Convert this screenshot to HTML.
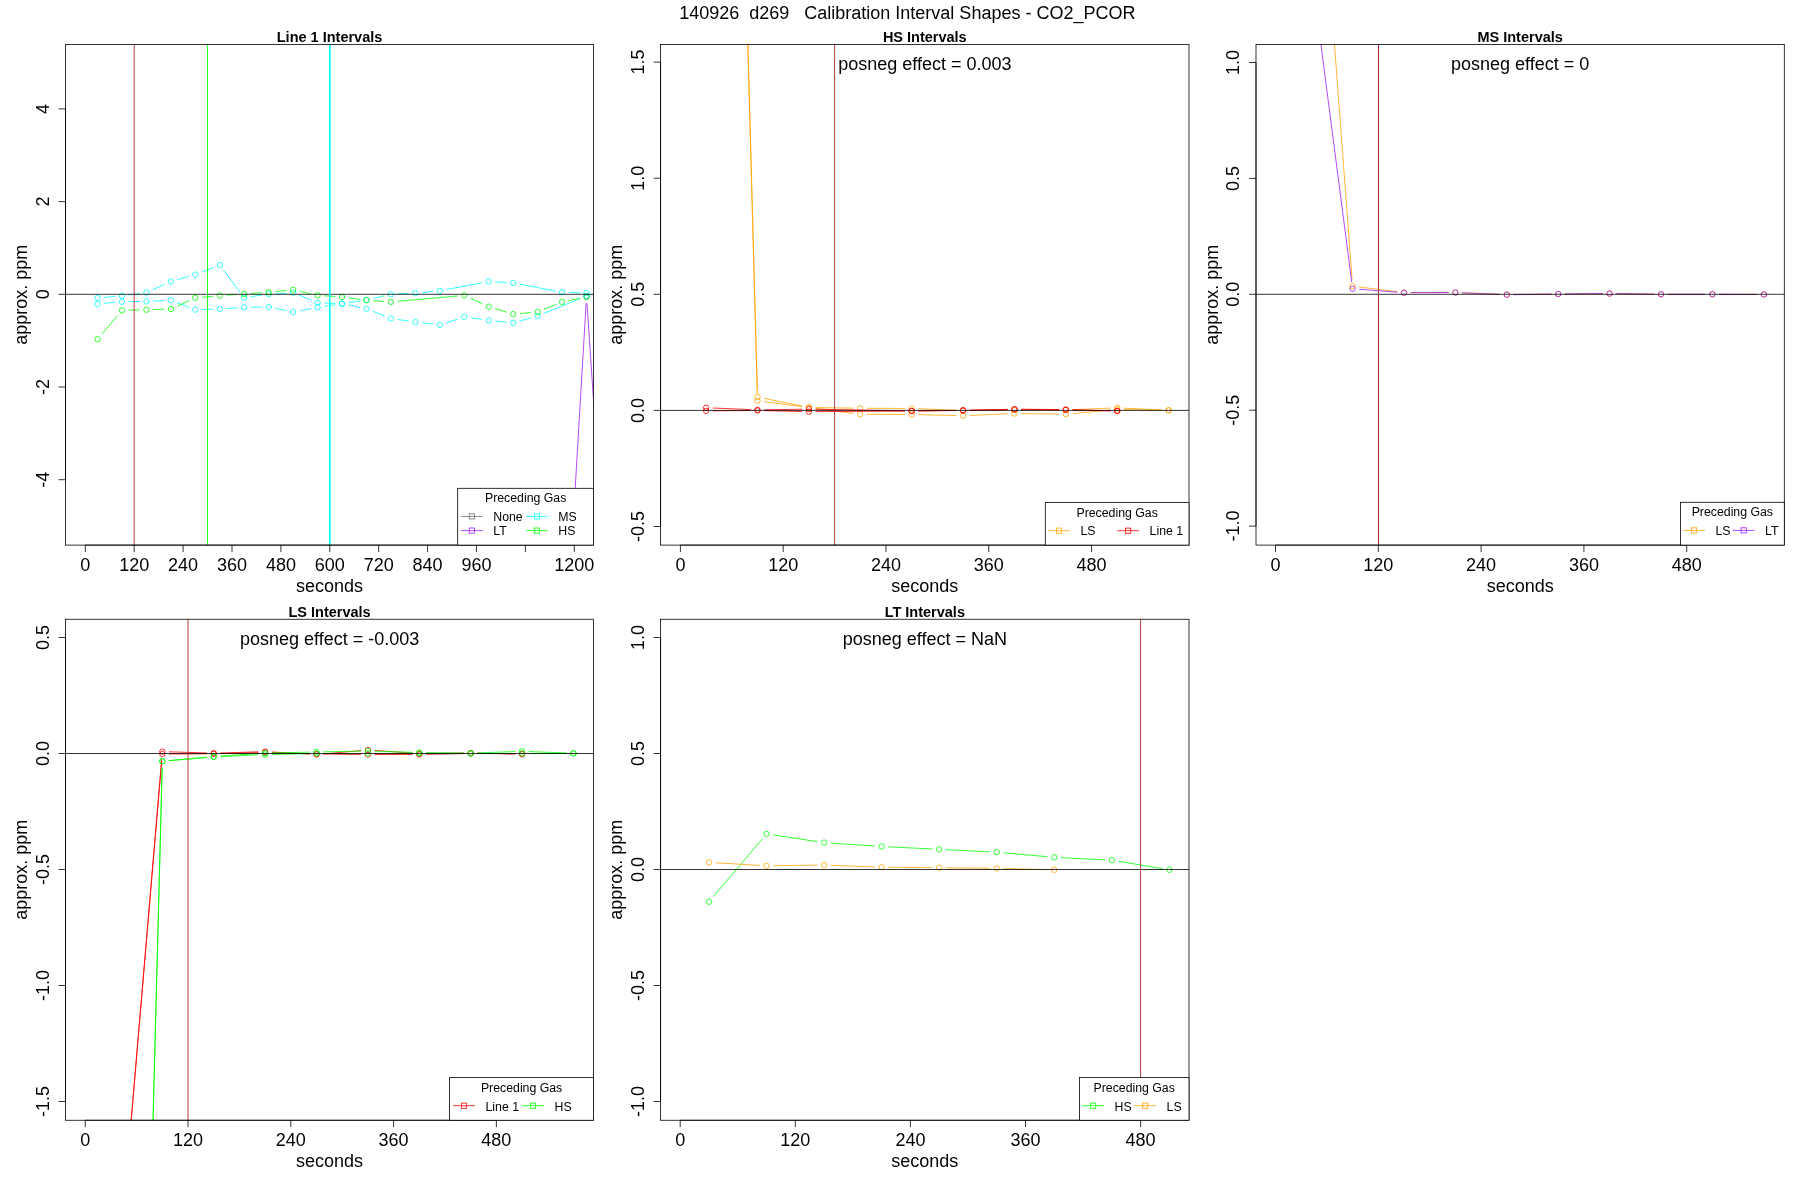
<!DOCTYPE html>
<html><head><meta charset="utf-8"><title>Calibration Interval Shapes</title>
<style>
html,body{margin:0;padding:0;background:#fff;width:1800px;height:1200px;overflow:hidden}
svg{display:block}
text{font-family:"Liberation Sans", sans-serif;fill:#000;-webkit-font-smoothing:antialiased}
.t18{font-size:18px}
.tb{font-size:14.5px;font-weight:bold}
.tl{font-size:12.3px}
</style></head><body>
<svg width="1800" height="1200" viewBox="0 0 1800 1200">
<rect x="0" y="0" width="1800" height="1200" fill="#fff"/>
<g style="opacity:0.999">
<text x="679.2" y="18.7" class="t18" xml:space="preserve">140926  d269   Calibration Interval Shapes - CO2_PCOR</text>
<clipPath id="c1"><rect x="65.5" y="44.4" width="528.1" height="500.7"/></clipPath>
<path clip-path="url(#c1)" d="M562.47 703.31L586.13 303.19M586.97 303.18L610.53 653.32" fill="none" stroke="#A020F0" stroke-width="0.8"/>
<circle clip-path="url(#c1)" cx="586.52" cy="296.5" r="2.7" fill="none" stroke="#A020F0" stroke-width="0.8"/>
<path clip-path="url(#c1)" d="M104.2 297.33L115.3 296.37M128.62 294.93L139.78 293.47M152.52 289.81L164.78 284.19M177.33 279.6L188.87 276.4M201.56 272.15L213.54 267.45M223.79 270.37L240.21 292.33M250.85 296.7L262.05 295M275.37 293.64L286.43 293.06M299.33 295.24L311.37 300.16M324.27 302.97L335.33 303.43M348.65 302.67L359.85 300.93M373.01 298.4L384.39 295.8M397.62 294L408.68 293.5M422.04 292.55L433.16 291.45M446.4 289.54L482.15 282.66M495.41 281.84L506.49 282.56M519.76 284.24L555.49 290.96M568.77 292.39L579.83 292.71" fill="none" stroke="#00FFFF" stroke-width="0.8"/>
<circle clip-path="url(#c1)" cx="97.52" cy="297.9" r="2.7" fill="none" stroke="#00FFFF" stroke-width="0.8"/>
<circle clip-path="url(#c1)" cx="121.97" cy="295.8" r="2.7" fill="none" stroke="#00FFFF" stroke-width="0.8"/>
<circle clip-path="url(#c1)" cx="146.42" cy="292.6" r="2.7" fill="none" stroke="#00FFFF" stroke-width="0.8"/>
<circle clip-path="url(#c1)" cx="170.88" cy="281.4" r="2.7" fill="none" stroke="#00FFFF" stroke-width="0.8"/>
<circle clip-path="url(#c1)" cx="195.32" cy="274.6" r="2.7" fill="none" stroke="#00FFFF" stroke-width="0.8"/>
<circle clip-path="url(#c1)" cx="219.77" cy="265" r="2.7" fill="none" stroke="#00FFFF" stroke-width="0.8"/>
<circle clip-path="url(#c1)" cx="244.22" cy="297.7" r="2.7" fill="none" stroke="#00FFFF" stroke-width="0.8"/>
<circle clip-path="url(#c1)" cx="268.68" cy="294" r="2.7" fill="none" stroke="#00FFFF" stroke-width="0.8"/>
<circle clip-path="url(#c1)" cx="293.12" cy="292.7" r="2.7" fill="none" stroke="#00FFFF" stroke-width="0.8"/>
<circle clip-path="url(#c1)" cx="317.57" cy="302.7" r="2.7" fill="none" stroke="#00FFFF" stroke-width="0.8"/>
<circle clip-path="url(#c1)" cx="342.02" cy="303.7" r="2.7" fill="none" stroke="#00FFFF" stroke-width="0.8"/>
<circle clip-path="url(#c1)" cx="366.47" cy="299.9" r="2.7" fill="none" stroke="#00FFFF" stroke-width="0.8"/>
<circle clip-path="url(#c1)" cx="390.93" cy="294.3" r="2.7" fill="none" stroke="#00FFFF" stroke-width="0.8"/>
<circle clip-path="url(#c1)" cx="415.38" cy="293.2" r="2.7" fill="none" stroke="#00FFFF" stroke-width="0.8"/>
<circle clip-path="url(#c1)" cx="439.82" cy="290.8" r="2.7" fill="none" stroke="#00FFFF" stroke-width="0.8"/>
<circle clip-path="url(#c1)" cx="488.72" cy="281.4" r="2.7" fill="none" stroke="#00FFFF" stroke-width="0.8"/>
<circle clip-path="url(#c1)" cx="513.17" cy="283" r="2.7" fill="none" stroke="#00FFFF" stroke-width="0.8"/>
<circle clip-path="url(#c1)" cx="562.07" cy="292.2" r="2.7" fill="none" stroke="#00FFFF" stroke-width="0.8"/>
<circle clip-path="url(#c1)" cx="586.52" cy="292.9" r="2.7" fill="none" stroke="#00FFFF" stroke-width="0.8"/>
<path clip-path="url(#c1)" d="M104.2 303.33L115.3 302.37M128.67 301.69L139.73 301.51M153.12 301.1L164.18 300.6M177.13 302.7L189.07 307.3M202.02 309.51L213.08 309.19M226.46 308.54L237.54 307.76M250.92 307.22L261.98 307.08M275.24 308.34L286.56 310.66M299.7 310.74L311 308.56M324.2 306.32L335.4 304.68M348.58 305.07L359.92 307.43M372.7 311.27L384.7 316.03M397.56 319.45L408.74 321.05M422.03 322.79L433.17 324.11M446.19 322.82L457.91 318.98M470.91 317.85L482.09 319.45M495.39 321.05L506.51 322.15M519.64 321.03L531.16 317.87M543.82 313.54L580.33 298.46" fill="none" stroke="#00FFFF" stroke-width="0.8"/>
<circle clip-path="url(#c1)" cx="97.52" cy="303.9" r="2.7" fill="none" stroke="#00FFFF" stroke-width="0.8"/>
<circle clip-path="url(#c1)" cx="121.97" cy="301.8" r="2.7" fill="none" stroke="#00FFFF" stroke-width="0.8"/>
<circle clip-path="url(#c1)" cx="146.42" cy="301.4" r="2.7" fill="none" stroke="#00FFFF" stroke-width="0.8"/>
<circle clip-path="url(#c1)" cx="170.88" cy="300.3" r="2.7" fill="none" stroke="#00FFFF" stroke-width="0.8"/>
<circle clip-path="url(#c1)" cx="195.32" cy="309.7" r="2.7" fill="none" stroke="#00FFFF" stroke-width="0.8"/>
<circle clip-path="url(#c1)" cx="219.77" cy="309" r="2.7" fill="none" stroke="#00FFFF" stroke-width="0.8"/>
<circle clip-path="url(#c1)" cx="244.22" cy="307.3" r="2.7" fill="none" stroke="#00FFFF" stroke-width="0.8"/>
<circle clip-path="url(#c1)" cx="268.68" cy="307" r="2.7" fill="none" stroke="#00FFFF" stroke-width="0.8"/>
<circle clip-path="url(#c1)" cx="293.12" cy="312" r="2.7" fill="none" stroke="#00FFFF" stroke-width="0.8"/>
<circle clip-path="url(#c1)" cx="317.57" cy="307.3" r="2.7" fill="none" stroke="#00FFFF" stroke-width="0.8"/>
<circle clip-path="url(#c1)" cx="342.02" cy="303.7" r="2.7" fill="none" stroke="#00FFFF" stroke-width="0.8"/>
<circle clip-path="url(#c1)" cx="366.47" cy="308.8" r="2.7" fill="none" stroke="#00FFFF" stroke-width="0.8"/>
<circle clip-path="url(#c1)" cx="390.93" cy="318.5" r="2.7" fill="none" stroke="#00FFFF" stroke-width="0.8"/>
<circle clip-path="url(#c1)" cx="415.38" cy="322" r="2.7" fill="none" stroke="#00FFFF" stroke-width="0.8"/>
<circle clip-path="url(#c1)" cx="439.82" cy="324.9" r="2.7" fill="none" stroke="#00FFFF" stroke-width="0.8"/>
<circle clip-path="url(#c1)" cx="464.27" cy="316.9" r="2.7" fill="none" stroke="#00FFFF" stroke-width="0.8"/>
<circle clip-path="url(#c1)" cx="488.72" cy="320.4" r="2.7" fill="none" stroke="#00FFFF" stroke-width="0.8"/>
<circle clip-path="url(#c1)" cx="513.17" cy="322.8" r="2.7" fill="none" stroke="#00FFFF" stroke-width="0.8"/>
<circle clip-path="url(#c1)" cx="537.62" cy="316.1" r="2.7" fill="none" stroke="#00FFFF" stroke-width="0.8"/>
<circle clip-path="url(#c1)" cx="586.52" cy="295.9" r="2.7" fill="none" stroke="#00FFFF" stroke-width="0.8"/>
<path clip-path="url(#c1)" d="M101.86 334.09L117.64 315.51M128.67 310.21L139.73 309.89M153.12 309.51L164.18 309.19M176.98 306.23L189.22 300.67M202 297.27L213.1 296.23M226.46 295.16L237.54 294.44M250.91 293.51L261.99 292.69M275.34 291.55L286.46 290.45M299.66 291.27L311.04 293.83M324.26 295.76L335.34 296.54M348.66 297.9L359.84 299.4M373.16 300.74L384.24 301.46M397.6 301.31L457.6 295.99M470.36 298.21L482.64 303.89M495.14 308.64L506.76 312.16M519.85 313.53L530.95 312.57M543.82 309.44L555.88 304.46M568.64 300.58L579.96 298.32" fill="none" stroke="#00FF00" stroke-width="0.8"/>
<circle clip-path="url(#c1)" cx="97.52" cy="339.2" r="2.7" fill="none" stroke="#00FF00" stroke-width="0.8"/>
<circle clip-path="url(#c1)" cx="121.97" cy="310.4" r="2.7" fill="none" stroke="#00FF00" stroke-width="0.8"/>
<circle clip-path="url(#c1)" cx="146.42" cy="309.7" r="2.7" fill="none" stroke="#00FF00" stroke-width="0.8"/>
<circle clip-path="url(#c1)" cx="170.88" cy="309" r="2.7" fill="none" stroke="#00FF00" stroke-width="0.8"/>
<circle clip-path="url(#c1)" cx="195.32" cy="297.9" r="2.7" fill="none" stroke="#00FF00" stroke-width="0.8"/>
<circle clip-path="url(#c1)" cx="219.77" cy="295.6" r="2.7" fill="none" stroke="#00FF00" stroke-width="0.8"/>
<circle clip-path="url(#c1)" cx="244.22" cy="294" r="2.7" fill="none" stroke="#00FF00" stroke-width="0.8"/>
<circle clip-path="url(#c1)" cx="268.68" cy="292.2" r="2.7" fill="none" stroke="#00FF00" stroke-width="0.8"/>
<circle clip-path="url(#c1)" cx="293.12" cy="289.8" r="2.7" fill="none" stroke="#00FF00" stroke-width="0.8"/>
<circle clip-path="url(#c1)" cx="317.57" cy="295.3" r="2.7" fill="none" stroke="#00FF00" stroke-width="0.8"/>
<circle clip-path="url(#c1)" cx="342.02" cy="297" r="2.7" fill="none" stroke="#00FF00" stroke-width="0.8"/>
<circle clip-path="url(#c1)" cx="366.47" cy="300.3" r="2.7" fill="none" stroke="#00FF00" stroke-width="0.8"/>
<circle clip-path="url(#c1)" cx="390.93" cy="301.9" r="2.7" fill="none" stroke="#00FF00" stroke-width="0.8"/>
<circle clip-path="url(#c1)" cx="464.27" cy="295.4" r="2.7" fill="none" stroke="#00FF00" stroke-width="0.8"/>
<circle clip-path="url(#c1)" cx="488.72" cy="306.7" r="2.7" fill="none" stroke="#00FF00" stroke-width="0.8"/>
<circle clip-path="url(#c1)" cx="513.17" cy="314.1" r="2.7" fill="none" stroke="#00FF00" stroke-width="0.8"/>
<circle clip-path="url(#c1)" cx="537.62" cy="312" r="2.7" fill="none" stroke="#00FF00" stroke-width="0.8"/>
<circle clip-path="url(#c1)" cx="562.07" cy="301.9" r="2.7" fill="none" stroke="#00FF00" stroke-width="0.8"/>
<circle clip-path="url(#c1)" cx="586.52" cy="297" r="2.7" fill="none" stroke="#00FF00" stroke-width="0.8"/>
<line x1="65.5" y1="294.3" x2="593.6" y2="294.3" stroke="#000" stroke-width="0.8"/>
<line x1="134.2" y1="44.4" x2="134.2" y2="545.1" stroke="#A52A2A" stroke-width="0.9"/>
<line x1="207.5" y1="44.4" x2="207.5" y2="545.1" stroke="#00FF00" stroke-width="0.85"/>
<line x1="329.8" y1="44.4" x2="329.8" y2="545.1" stroke="#00FFFF" stroke-width="1.7"/>
<rect x="65.5" y="44.4" width="528.1" height="500.7" fill="none" stroke="#000" stroke-width="0.8"/>
<line x1="85.3" y1="545.1" x2="574.3" y2="545.1" stroke="#000" stroke-width="0.8"/>
<line x1="85.3" y1="545.1" x2="85.3" y2="552.1" stroke="#000" stroke-width="0.8"/>
<text x="85.3" y="570.5" text-anchor="middle" class="t18">0</text>
<line x1="134.2" y1="545.1" x2="134.2" y2="552.1" stroke="#000" stroke-width="0.8"/>
<text x="134.2" y="570.5" text-anchor="middle" class="t18">120</text>
<line x1="183.1" y1="545.1" x2="183.1" y2="552.1" stroke="#000" stroke-width="0.8"/>
<text x="183.1" y="570.5" text-anchor="middle" class="t18">240</text>
<line x1="232" y1="545.1" x2="232" y2="552.1" stroke="#000" stroke-width="0.8"/>
<text x="232" y="570.5" text-anchor="middle" class="t18">360</text>
<line x1="280.9" y1="545.1" x2="280.9" y2="552.1" stroke="#000" stroke-width="0.8"/>
<text x="280.9" y="570.5" text-anchor="middle" class="t18">480</text>
<line x1="329.8" y1="545.1" x2="329.8" y2="552.1" stroke="#000" stroke-width="0.8"/>
<text x="329.8" y="570.5" text-anchor="middle" class="t18">600</text>
<line x1="378.7" y1="545.1" x2="378.7" y2="552.1" stroke="#000" stroke-width="0.8"/>
<text x="378.7" y="570.5" text-anchor="middle" class="t18">720</text>
<line x1="427.6" y1="545.1" x2="427.6" y2="552.1" stroke="#000" stroke-width="0.8"/>
<text x="427.6" y="570.5" text-anchor="middle" class="t18">840</text>
<line x1="476.5" y1="545.1" x2="476.5" y2="552.1" stroke="#000" stroke-width="0.8"/>
<text x="476.5" y="570.5" text-anchor="middle" class="t18">960</text>
<line x1="525.4" y1="545.1" x2="525.4" y2="552.1" stroke="#000" stroke-width="0.8"/>
<line x1="574.3" y1="545.1" x2="574.3" y2="552.1" stroke="#000" stroke-width="0.8"/>
<text x="574.3" y="570.5" text-anchor="middle" class="t18">1200</text>
<text x="329.55" y="591.9" text-anchor="middle" class="t18">seconds</text>
<line x1="65.5" y1="479.7" x2="65.5" y2="108.9" stroke="#000" stroke-width="0.8"/>
<line x1="58.5" y1="479.7" x2="65.5" y2="479.7" stroke="#000" stroke-width="0.8"/>
<text transform="translate(48.8,479.7) rotate(-90)" text-anchor="middle" class="t18">-4</text>
<line x1="58.5" y1="387" x2="65.5" y2="387" stroke="#000" stroke-width="0.8"/>
<text transform="translate(48.8,387) rotate(-90)" text-anchor="middle" class="t18">-2</text>
<line x1="58.5" y1="294.3" x2="65.5" y2="294.3" stroke="#000" stroke-width="0.8"/>
<text transform="translate(48.8,294.3) rotate(-90)" text-anchor="middle" class="t18">0</text>
<line x1="58.5" y1="201.6" x2="65.5" y2="201.6" stroke="#000" stroke-width="0.8"/>
<text transform="translate(48.8,201.6) rotate(-90)" text-anchor="middle" class="t18">2</text>
<line x1="58.5" y1="108.9" x2="65.5" y2="108.9" stroke="#000" stroke-width="0.8"/>
<text transform="translate(48.8,108.9) rotate(-90)" text-anchor="middle" class="t18">4</text>
<text transform="translate(27.1,294.75) rotate(-90)" text-anchor="middle" class="t18">approx. ppm</text>
<text x="329.55" y="41.7" text-anchor="middle" class="tb">Line 1 Intervals</text>
<rect x="457.7" y="488.3" width="135.9" height="56.8" fill="#fff" stroke="#000" stroke-width="0.8"/>
<text x="525.65" y="502.3" text-anchor="middle" class="tl">Preceding Gas</text>
<line x1="461" y1="516.4" x2="482.7" y2="516.4" stroke="#707070" stroke-width="0.8"/>
<rect x="469.25" y="513.8" width="5.2" height="5.2" fill="none" stroke="#707070" stroke-width="0.8"/>
<text x="493.3" y="521" class="tl">None</text>
<line x1="461" y1="530.6" x2="482.7" y2="530.6" stroke="#A020F0" stroke-width="0.8"/>
<rect x="469.25" y="528" width="5.2" height="5.2" fill="none" stroke="#A020F0" stroke-width="0.8"/>
<text x="493.3" y="535.2" class="tl">LT</text>
<line x1="526" y1="516.4" x2="547.7" y2="516.4" stroke="#00FFFF" stroke-width="0.8"/>
<rect x="534.25" y="513.8" width="5.2" height="5.2" fill="none" stroke="#00FFFF" stroke-width="0.8"/>
<text x="558.3" y="521" class="tl">MS</text>
<line x1="526" y1="530.6" x2="547.7" y2="530.6" stroke="#00FF00" stroke-width="0.8"/>
<rect x="534.25" y="528" width="5.2" height="5.2" fill="none" stroke="#00FF00" stroke-width="0.8"/>
<text x="558.3" y="535.2" class="tl">HS</text>
<clipPath id="c2"><rect x="660.6" y="44.4" width="528.4" height="500.7"/></clipPath>
<path clip-path="url(#c2)" d="M706.28 -1493.3L757.3 390.2M764.05 398.25L802.31 406.15M815.57 407.6L853.57 408.15M866.96 408.28L904.96 408.47M918.35 408.75L956.35 410.15M969.74 410.35L1007.74 410.05M1021.13 410L1059.12 410M1072.52 409.71L1110.52 408.09M1123.91 408.13L1161.91 409.97" fill="none" stroke="#FFA500" stroke-width="0.8"/>
<circle clip-path="url(#c2)" cx="757.49" cy="396.9" r="2.7" fill="none" stroke="#FFA500" stroke-width="0.8"/>
<circle clip-path="url(#c2)" cx="808.88" cy="407.5" r="2.7" fill="none" stroke="#FFA500" stroke-width="0.8"/>
<circle clip-path="url(#c2)" cx="860.26" cy="408.25" r="2.7" fill="none" stroke="#FFA500" stroke-width="0.8"/>
<circle clip-path="url(#c2)" cx="911.65" cy="408.5" r="2.7" fill="none" stroke="#FFA500" stroke-width="0.8"/>
<circle clip-path="url(#c2)" cx="963.05" cy="410.4" r="2.7" fill="none" stroke="#FFA500" stroke-width="0.8"/>
<circle clip-path="url(#c2)" cx="1014.43" cy="410" r="2.7" fill="none" stroke="#FFA500" stroke-width="0.8"/>
<circle clip-path="url(#c2)" cx="1065.83" cy="410" r="2.7" fill="none" stroke="#FFA500" stroke-width="0.8"/>
<circle clip-path="url(#c2)" cx="1117.21" cy="407.8" r="2.7" fill="none" stroke="#FFA500" stroke-width="0.8"/>
<circle clip-path="url(#c2)" cx="1168.61" cy="410.3" r="2.7" fill="none" stroke="#FFA500" stroke-width="0.8"/>
<path clip-path="url(#c2)" d="M706.28 -1473.3L757.3 394.1M764.13 401.67L802.23 406.63M815.52 408.37L853.62 413.38M866.96 414.28L904.96 414.47M918.35 414.66L956.35 415.54M969.74 415.41L1007.74 413.79M1021.13 413.59L1059.13 414.11M1072.5 413.59L1110.54 410.11M1123.91 409.6L1161.91 410.2" fill="none" stroke="#FFA500" stroke-width="0.8"/>
<circle clip-path="url(#c2)" cx="757.49" cy="400.8" r="2.7" fill="none" stroke="#FFA500" stroke-width="0.8"/>
<circle clip-path="url(#c2)" cx="808.88" cy="407.5" r="2.7" fill="none" stroke="#FFA500" stroke-width="0.8"/>
<circle clip-path="url(#c2)" cx="860.26" cy="414.25" r="2.7" fill="none" stroke="#FFA500" stroke-width="0.8"/>
<circle clip-path="url(#c2)" cx="911.65" cy="414.5" r="2.7" fill="none" stroke="#FFA500" stroke-width="0.8"/>
<circle clip-path="url(#c2)" cx="963.05" cy="415.7" r="2.7" fill="none" stroke="#FFA500" stroke-width="0.8"/>
<circle clip-path="url(#c2)" cx="1014.43" cy="413.5" r="2.7" fill="none" stroke="#FFA500" stroke-width="0.8"/>
<circle clip-path="url(#c2)" cx="1065.83" cy="414.2" r="2.7" fill="none" stroke="#FFA500" stroke-width="0.8"/>
<circle clip-path="url(#c2)" cx="1117.21" cy="409.5" r="2.7" fill="none" stroke="#FFA500" stroke-width="0.8"/>
<circle clip-path="url(#c2)" cx="1168.61" cy="410.3" r="2.7" fill="none" stroke="#FFA500" stroke-width="0.8"/>
<path clip-path="url(#c2)" d="M712.79 407.99L750.79 409.61M764.18 409.8L802.18 409.2M815.57 409.22L904.96 410.88M918.35 410.92L956.35 410.48M969.74 410.24L1007.74 409.36M1021.13 409.25L1059.13 409.55M1072.52 409.78L1110.52 410.82" fill="none" stroke="#FF0000" stroke-width="0.8"/>
<circle clip-path="url(#c2)" cx="706.1" cy="407.7" r="2.7" fill="none" stroke="#FF0000" stroke-width="0.8"/>
<circle clip-path="url(#c2)" cx="757.49" cy="409.9" r="2.7" fill="none" stroke="#FF0000" stroke-width="0.8"/>
<circle clip-path="url(#c2)" cx="808.88" cy="409.1" r="2.7" fill="none" stroke="#FF0000" stroke-width="0.8"/>
<circle clip-path="url(#c2)" cx="911.65" cy="411" r="2.7" fill="none" stroke="#FF0000" stroke-width="0.8"/>
<circle clip-path="url(#c2)" cx="963.05" cy="410.4" r="2.7" fill="none" stroke="#FF0000" stroke-width="0.8"/>
<circle clip-path="url(#c2)" cx="1014.43" cy="409.2" r="2.7" fill="none" stroke="#FF0000" stroke-width="0.8"/>
<circle clip-path="url(#c2)" cx="1065.83" cy="409.6" r="2.7" fill="none" stroke="#FF0000" stroke-width="0.8"/>
<circle clip-path="url(#c2)" cx="1117.21" cy="411" r="2.7" fill="none" stroke="#FF0000" stroke-width="0.8"/>
<path clip-path="url(#c2)" d="M712.79 410.85L750.79 410.55M764.18 410.66L802.18 411.54M815.57 411.65L904.96 411.05M918.35 410.92L956.35 410.48M969.74 410.27L1007.74 409.53M1021.13 409.45L1059.13 409.75M1072.52 409.96L1110.52 410.84" fill="none" stroke="#FF0000" stroke-width="0.8"/>
<circle clip-path="url(#c2)" cx="706.1" cy="410.9" r="2.7" fill="none" stroke="#FF0000" stroke-width="0.8"/>
<circle clip-path="url(#c2)" cx="757.49" cy="410.5" r="2.7" fill="none" stroke="#FF0000" stroke-width="0.8"/>
<circle clip-path="url(#c2)" cx="808.88" cy="411.7" r="2.7" fill="none" stroke="#FF0000" stroke-width="0.8"/>
<circle clip-path="url(#c2)" cx="911.65" cy="411" r="2.7" fill="none" stroke="#FF0000" stroke-width="0.8"/>
<circle clip-path="url(#c2)" cx="963.05" cy="410.4" r="2.7" fill="none" stroke="#FF0000" stroke-width="0.8"/>
<circle clip-path="url(#c2)" cx="1014.43" cy="409.4" r="2.7" fill="none" stroke="#FF0000" stroke-width="0.8"/>
<circle clip-path="url(#c2)" cx="1065.83" cy="409.8" r="2.7" fill="none" stroke="#FF0000" stroke-width="0.8"/>
<circle clip-path="url(#c2)" cx="1117.21" cy="411" r="2.7" fill="none" stroke="#FF0000" stroke-width="0.8"/>
<line x1="660.6" y1="410.4" x2="1189" y2="410.4" stroke="#000" stroke-width="0.8"/>
<line x1="834.6" y1="44.4" x2="834.6" y2="545.1" stroke="#A52A2A" stroke-width="0.9"/>
<rect x="660.6" y="44.4" width="528.4" height="500.7" fill="none" stroke="#000" stroke-width="0.8"/>
<line x1="680.4" y1="545.1" x2="1091.52" y2="545.1" stroke="#000" stroke-width="0.8"/>
<line x1="680.4" y1="545.1" x2="680.4" y2="552.1" stroke="#000" stroke-width="0.8"/>
<text x="680.4" y="570.5" text-anchor="middle" class="t18">0</text>
<line x1="783.18" y1="545.1" x2="783.18" y2="552.1" stroke="#000" stroke-width="0.8"/>
<text x="783.18" y="570.5" text-anchor="middle" class="t18">120</text>
<line x1="885.96" y1="545.1" x2="885.96" y2="552.1" stroke="#000" stroke-width="0.8"/>
<text x="885.96" y="570.5" text-anchor="middle" class="t18">240</text>
<line x1="988.74" y1="545.1" x2="988.74" y2="552.1" stroke="#000" stroke-width="0.8"/>
<text x="988.74" y="570.5" text-anchor="middle" class="t18">360</text>
<line x1="1091.52" y1="545.1" x2="1091.52" y2="552.1" stroke="#000" stroke-width="0.8"/>
<text x="1091.52" y="570.5" text-anchor="middle" class="t18">480</text>
<text x="924.8" y="591.9" text-anchor="middle" class="t18">seconds</text>
<line x1="660.6" y1="526.5" x2="660.6" y2="62.1" stroke="#000" stroke-width="0.8"/>
<line x1="653.6" y1="526.5" x2="660.6" y2="526.5" stroke="#000" stroke-width="0.8"/>
<text transform="translate(643.9,526.5) rotate(-90)" text-anchor="middle" class="t18">-0.5</text>
<line x1="653.6" y1="410.4" x2="660.6" y2="410.4" stroke="#000" stroke-width="0.8"/>
<text transform="translate(643.9,410.4) rotate(-90)" text-anchor="middle" class="t18">0.0</text>
<line x1="653.6" y1="294.3" x2="660.6" y2="294.3" stroke="#000" stroke-width="0.8"/>
<text transform="translate(643.9,294.3) rotate(-90)" text-anchor="middle" class="t18">0.5</text>
<line x1="653.6" y1="178.2" x2="660.6" y2="178.2" stroke="#000" stroke-width="0.8"/>
<text transform="translate(643.9,178.2) rotate(-90)" text-anchor="middle" class="t18">1.0</text>
<line x1="653.6" y1="62.1" x2="660.6" y2="62.1" stroke="#000" stroke-width="0.8"/>
<text transform="translate(643.9,62.1) rotate(-90)" text-anchor="middle" class="t18">1.5</text>
<text transform="translate(622.2,294.75) rotate(-90)" text-anchor="middle" class="t18">approx. ppm</text>
<text x="924.8" y="41.7" text-anchor="middle" class="tb">HS Intervals</text>
<text x="924.8" y="69.5" text-anchor="middle" class="t18">posneg effect = 0.003</text>
<rect x="1045.3" y="502.6" width="143.7" height="42.5" fill="#fff" stroke="#000" stroke-width="0.8"/>
<text x="1117.15" y="516.6" text-anchor="middle" class="tl">Preceding Gas</text>
<line x1="1048.2" y1="530.7" x2="1069.9" y2="530.7" stroke="#FFA500" stroke-width="0.8"/>
<rect x="1056.45" y="528.1" width="5.2" height="5.2" fill="none" stroke="#FFA500" stroke-width="0.8"/>
<text x="1080.5" y="535.3" class="tl">LS</text>
<line x1="1117.3" y1="530.7" x2="1139" y2="530.7" stroke="#FF0000" stroke-width="0.8"/>
<rect x="1125.55" y="528.1" width="5.2" height="5.2" fill="none" stroke="#FF0000" stroke-width="0.8"/>
<text x="1149.6" y="535.3" class="tl">Line 1</text>
<clipPath id="c3"><rect x="1256" y="44.4" width="528.3" height="500.7"/></clipPath>
<path clip-path="url(#c3)" d="M1301.7 -393.32L1352.1 279.52M1359.25 287.02L1397.35 291.68M1410.71 292.5L1448.71 292.5M1462.1 292.76L1500.11 294.24M1513.51 294.45L1551.51 294.15M1564.91 294.05L1602.91 293.75M1616.31 293.78L1654.32 294.22M1667.71 294.3L1705.72 294.3M1719.12 294.3L1757.12 294.3" fill="none" stroke="#FFA500" stroke-width="0.8"/>
<circle clip-path="url(#c3)" cx="1352.6" cy="286.2" r="2.7" fill="none" stroke="#FFA500" stroke-width="0.8"/>
<circle clip-path="url(#c3)" cx="1404.01" cy="292.5" r="2.7" fill="none" stroke="#FFA500" stroke-width="0.8"/>
<circle clip-path="url(#c3)" cx="1455.41" cy="292.5" r="2.7" fill="none" stroke="#FFA500" stroke-width="0.8"/>
<circle clip-path="url(#c3)" cx="1506.81" cy="294.5" r="2.7" fill="none" stroke="#FFA500" stroke-width="0.8"/>
<circle clip-path="url(#c3)" cx="1558.21" cy="294.1" r="2.7" fill="none" stroke="#FFA500" stroke-width="0.8"/>
<circle clip-path="url(#c3)" cx="1609.61" cy="293.7" r="2.7" fill="none" stroke="#FFA500" stroke-width="0.8"/>
<circle clip-path="url(#c3)" cx="1661.01" cy="294.3" r="2.7" fill="none" stroke="#FFA500" stroke-width="0.8"/>
<circle clip-path="url(#c3)" cx="1712.42" cy="294.3" r="2.7" fill="none" stroke="#FFA500" stroke-width="0.8"/>
<circle clip-path="url(#c3)" cx="1763.82" cy="294.3" r="2.7" fill="none" stroke="#FFA500" stroke-width="0.8"/>
<path clip-path="url(#c3)" d="M1302.06 -101.06L1351.74 282.06M1359.28 289.22L1397.33 292.18M1410.7 292.67L1448.71 292.53M1462.1 292.8L1500.12 294.5M1513.51 294.7L1551.51 294.1M1564.91 293.93L1602.91 293.57M1616.31 293.6L1654.32 294.2M1667.71 294.3L1705.72 294.3M1719.12 294.33L1757.12 294.47" fill="none" stroke="#A020F0" stroke-width="0.8"/>
<circle clip-path="url(#c3)" cx="1352.6" cy="288.7" r="2.7" fill="none" stroke="#A020F0" stroke-width="0.8"/>
<circle clip-path="url(#c3)" cx="1404.01" cy="292.7" r="2.7" fill="none" stroke="#A020F0" stroke-width="0.8"/>
<circle clip-path="url(#c3)" cx="1455.41" cy="292.5" r="2.7" fill="none" stroke="#A020F0" stroke-width="0.8"/>
<circle clip-path="url(#c3)" cx="1506.81" cy="294.8" r="2.7" fill="none" stroke="#A020F0" stroke-width="0.8"/>
<circle clip-path="url(#c3)" cx="1558.21" cy="294" r="2.7" fill="none" stroke="#A020F0" stroke-width="0.8"/>
<circle clip-path="url(#c3)" cx="1609.61" cy="293.5" r="2.7" fill="none" stroke="#A020F0" stroke-width="0.8"/>
<circle clip-path="url(#c3)" cx="1661.01" cy="294.3" r="2.7" fill="none" stroke="#A020F0" stroke-width="0.8"/>
<circle clip-path="url(#c3)" cx="1712.42" cy="294.3" r="2.7" fill="none" stroke="#A020F0" stroke-width="0.8"/>
<circle clip-path="url(#c3)" cx="1763.82" cy="294.5" r="2.7" fill="none" stroke="#A020F0" stroke-width="0.8"/>
<line x1="1256" y1="294.3" x2="1784.3" y2="294.3" stroke="#000" stroke-width="0.8"/>
<line x1="1378.5" y1="44.4" x2="1378.5" y2="545.1" stroke="#A52A2A" stroke-width="1.0"/>
<rect x="1256" y="44.4" width="528.3" height="500.7" fill="none" stroke="#000" stroke-width="0.8"/>
<line x1="1275.5" y1="545.1" x2="1686.72" y2="545.1" stroke="#000" stroke-width="0.8"/>
<line x1="1275.5" y1="545.1" x2="1275.5" y2="552.1" stroke="#000" stroke-width="0.8"/>
<text x="1275.5" y="570.5" text-anchor="middle" class="t18">0</text>
<line x1="1378.3" y1="545.1" x2="1378.3" y2="552.1" stroke="#000" stroke-width="0.8"/>
<text x="1378.3" y="570.5" text-anchor="middle" class="t18">120</text>
<line x1="1481.11" y1="545.1" x2="1481.11" y2="552.1" stroke="#000" stroke-width="0.8"/>
<text x="1481.11" y="570.5" text-anchor="middle" class="t18">240</text>
<line x1="1583.91" y1="545.1" x2="1583.91" y2="552.1" stroke="#000" stroke-width="0.8"/>
<text x="1583.91" y="570.5" text-anchor="middle" class="t18">360</text>
<line x1="1686.72" y1="545.1" x2="1686.72" y2="552.1" stroke="#000" stroke-width="0.8"/>
<text x="1686.72" y="570.5" text-anchor="middle" class="t18">480</text>
<text x="1520.15" y="591.9" text-anchor="middle" class="t18">seconds</text>
<line x1="1256" y1="526.1" x2="1256" y2="62.5" stroke="#000" stroke-width="0.8"/>
<line x1="1249" y1="526.1" x2="1256" y2="526.1" stroke="#000" stroke-width="0.8"/>
<text transform="translate(1239.3,526.1) rotate(-90)" text-anchor="middle" class="t18">-1.0</text>
<line x1="1249" y1="410.2" x2="1256" y2="410.2" stroke="#000" stroke-width="0.8"/>
<text transform="translate(1239.3,410.2) rotate(-90)" text-anchor="middle" class="t18">-0.5</text>
<line x1="1249" y1="294.3" x2="1256" y2="294.3" stroke="#000" stroke-width="0.8"/>
<text transform="translate(1239.3,294.3) rotate(-90)" text-anchor="middle" class="t18">0.0</text>
<line x1="1249" y1="178.4" x2="1256" y2="178.4" stroke="#000" stroke-width="0.8"/>
<text transform="translate(1239.3,178.4) rotate(-90)" text-anchor="middle" class="t18">0.5</text>
<line x1="1249" y1="62.5" x2="1256" y2="62.5" stroke="#000" stroke-width="0.8"/>
<text transform="translate(1239.3,62.5) rotate(-90)" text-anchor="middle" class="t18">1.0</text>
<text transform="translate(1217.6,294.75) rotate(-90)" text-anchor="middle" class="t18">approx. ppm</text>
<text x="1520.15" y="41.7" text-anchor="middle" class="tb">MS Intervals</text>
<text x="1520.15" y="69.5" text-anchor="middle" class="t18">posneg effect = 0</text>
<rect x="1680.4" y="502.3" width="103.9" height="42.8" fill="#fff" stroke="#000" stroke-width="0.8"/>
<text x="1732.35" y="516.3" text-anchor="middle" class="tl">Preceding Gas</text>
<line x1="1683.2" y1="530.4" x2="1704.9" y2="530.4" stroke="#FFA500" stroke-width="0.8"/>
<rect x="1691.45" y="527.8" width="5.2" height="5.2" fill="none" stroke="#FFA500" stroke-width="0.8"/>
<text x="1715.5" y="535" class="tl">LS</text>
<line x1="1732.8" y1="530.4" x2="1754.5" y2="530.4" stroke="#A020F0" stroke-width="0.8"/>
<rect x="1741.05" y="527.8" width="5.2" height="5.2" fill="none" stroke="#A020F0" stroke-width="0.8"/>
<text x="1765.1" y="535" class="tl">LT</text>
<clipPath id="c4"><rect x="65.5" y="619.25" width="528.1" height="501"/></clipPath>
<path clip-path="url(#c4)" d="M111.51 1352.32L161.77 758.28M169.03 751.81L207.03 752.99M220.42 752.99L258.42 751.81M271.8 751.98L309.82 754.12M323.18 753.92L361.22 750.58M374.58 750.46L412.6 753.04M425.98 753.42L463.98 752.98M477.37 753.07L515.37 754.03" fill="none" stroke="#FF0000" stroke-width="0.8"/>
<circle clip-path="url(#c4)" cx="162.34" cy="751.6" r="2.7" fill="none" stroke="#FF0000" stroke-width="0.8"/>
<circle clip-path="url(#c4)" cx="213.72" cy="753.2" r="2.7" fill="none" stroke="#FF0000" stroke-width="0.8"/>
<circle clip-path="url(#c4)" cx="265.12" cy="751.6" r="2.7" fill="none" stroke="#FF0000" stroke-width="0.8"/>
<circle clip-path="url(#c4)" cx="316.5" cy="754.5" r="2.7" fill="none" stroke="#FF0000" stroke-width="0.8"/>
<circle clip-path="url(#c4)" cx="367.9" cy="750" r="2.7" fill="none" stroke="#FF0000" stroke-width="0.8"/>
<circle clip-path="url(#c4)" cx="419.29" cy="753.5" r="2.7" fill="none" stroke="#FF0000" stroke-width="0.8"/>
<circle clip-path="url(#c4)" cx="470.68" cy="752.9" r="2.7" fill="none" stroke="#FF0000" stroke-width="0.8"/>
<circle clip-path="url(#c4)" cx="522.07" cy="754.2" r="2.7" fill="none" stroke="#FF0000" stroke-width="0.8"/>
<path clip-path="url(#c4)" d="M111.51 1352.32L161.77 760.68M169.03 753.97L207.03 753.83M220.42 753.63L258.42 752.67M271.81 752.7L309.81 753.8M323.2 754.07L361.2 754.43M374.6 754.5L412.59 754.5M425.98 754.37L463.98 753.63M477.37 753.54L515.37 753.76" fill="none" stroke="#FF0000" stroke-width="0.8"/>
<circle clip-path="url(#c4)" cx="162.34" cy="754" r="2.7" fill="none" stroke="#FF0000" stroke-width="0.8"/>
<circle clip-path="url(#c4)" cx="213.72" cy="753.8" r="2.7" fill="none" stroke="#FF0000" stroke-width="0.8"/>
<circle clip-path="url(#c4)" cx="265.12" cy="752.5" r="2.7" fill="none" stroke="#FF0000" stroke-width="0.8"/>
<circle clip-path="url(#c4)" cx="316.5" cy="754" r="2.7" fill="none" stroke="#FF0000" stroke-width="0.8"/>
<circle clip-path="url(#c4)" cx="367.9" cy="754.5" r="2.7" fill="none" stroke="#FF0000" stroke-width="0.8"/>
<circle clip-path="url(#c4)" cx="419.29" cy="754.5" r="2.7" fill="none" stroke="#FF0000" stroke-width="0.8"/>
<circle clip-path="url(#c4)" cx="470.68" cy="753.5" r="2.7" fill="none" stroke="#FF0000" stroke-width="0.8"/>
<circle clip-path="url(#c4)" cx="522.07" cy="753.8" r="2.7" fill="none" stroke="#FF0000" stroke-width="0.8"/>
<path clip-path="url(#c4)" d="M111.12 2738.3L162.16 767.9M169.01 760.59L207.05 757.11M220.41 756.04L258.43 753.46M271.81 752.87L309.81 752.13M323.2 751.87L361.2 751.13M374.59 751.2L412.59 752.3M425.98 752.59L463.98 753.11M477.37 752.95L515.37 751.5M528.76 751.52L566.76 753.03" fill="none" stroke="#00FF00" stroke-width="0.8"/>
<circle clip-path="url(#c4)" cx="162.34" cy="761.2" r="2.7" fill="none" stroke="#00FF00" stroke-width="0.8"/>
<circle clip-path="url(#c4)" cx="213.72" cy="756.5" r="2.7" fill="none" stroke="#00FF00" stroke-width="0.8"/>
<circle clip-path="url(#c4)" cx="265.12" cy="753" r="2.7" fill="none" stroke="#00FF00" stroke-width="0.8"/>
<circle clip-path="url(#c4)" cx="316.5" cy="752" r="2.7" fill="none" stroke="#00FF00" stroke-width="0.8"/>
<circle clip-path="url(#c4)" cx="367.9" cy="751" r="2.7" fill="none" stroke="#00FF00" stroke-width="0.8"/>
<circle clip-path="url(#c4)" cx="419.29" cy="752.5" r="2.7" fill="none" stroke="#00FF00" stroke-width="0.8"/>
<circle clip-path="url(#c4)" cx="470.68" cy="753.2" r="2.7" fill="none" stroke="#00FF00" stroke-width="0.8"/>
<circle clip-path="url(#c4)" cx="522.07" cy="751.25" r="2.7" fill="none" stroke="#00FF00" stroke-width="0.8"/>
<circle clip-path="url(#c4)" cx="573.46" cy="753.3" r="2.7" fill="none" stroke="#00FF00" stroke-width="0.8"/>
<path clip-path="url(#c4)" d="M111.12 2738.3L162.16 767.9M169.01 760.65L207.05 757.55M220.42 756.67L258.42 754.83M271.81 754.37L309.81 753.63M323.2 753.5L361.2 753.5M374.59 753.47L412.59 753.33M425.98 753.33L463.98 753.47M477.38 753.5L515.37 753.5M528.76 753.47L566.76 753.33" fill="none" stroke="#00FF00" stroke-width="0.8"/>
<circle clip-path="url(#c4)" cx="162.34" cy="761.2" r="2.7" fill="none" stroke="#00FF00" stroke-width="0.8"/>
<circle clip-path="url(#c4)" cx="213.72" cy="757" r="2.7" fill="none" stroke="#00FF00" stroke-width="0.8"/>
<circle clip-path="url(#c4)" cx="265.12" cy="754.5" r="2.7" fill="none" stroke="#00FF00" stroke-width="0.8"/>
<circle clip-path="url(#c4)" cx="316.5" cy="753.5" r="2.7" fill="none" stroke="#00FF00" stroke-width="0.8"/>
<circle clip-path="url(#c4)" cx="367.9" cy="753.5" r="2.7" fill="none" stroke="#00FF00" stroke-width="0.8"/>
<circle clip-path="url(#c4)" cx="419.29" cy="753.3" r="2.7" fill="none" stroke="#00FF00" stroke-width="0.8"/>
<circle clip-path="url(#c4)" cx="470.68" cy="753.5" r="2.7" fill="none" stroke="#00FF00" stroke-width="0.8"/>
<circle clip-path="url(#c4)" cx="522.07" cy="753.5" r="2.7" fill="none" stroke="#00FF00" stroke-width="0.8"/>
<circle clip-path="url(#c4)" cx="573.46" cy="753.3" r="2.7" fill="none" stroke="#00FF00" stroke-width="0.8"/>
<line x1="65.5" y1="753.5" x2="593.6" y2="753.5" stroke="#000" stroke-width="0.8"/>
<line x1="188" y1="619.25" x2="188" y2="1120.25" stroke="#A52A2A" stroke-width="0.9"/>
<rect x="65.5" y="619.25" width="528.1" height="501" fill="none" stroke="#000" stroke-width="0.8"/>
<line x1="85.25" y1="1120.25" x2="496.37" y2="1120.25" stroke="#000" stroke-width="0.8"/>
<line x1="85.25" y1="1120.25" x2="85.25" y2="1127.25" stroke="#000" stroke-width="0.8"/>
<text x="85.25" y="1145.65" text-anchor="middle" class="t18">0</text>
<line x1="188.03" y1="1120.25" x2="188.03" y2="1127.25" stroke="#000" stroke-width="0.8"/>
<text x="188.03" y="1145.65" text-anchor="middle" class="t18">120</text>
<line x1="290.81" y1="1120.25" x2="290.81" y2="1127.25" stroke="#000" stroke-width="0.8"/>
<text x="290.81" y="1145.65" text-anchor="middle" class="t18">240</text>
<line x1="393.59" y1="1120.25" x2="393.59" y2="1127.25" stroke="#000" stroke-width="0.8"/>
<text x="393.59" y="1145.65" text-anchor="middle" class="t18">360</text>
<line x1="496.37" y1="1120.25" x2="496.37" y2="1127.25" stroke="#000" stroke-width="0.8"/>
<text x="496.37" y="1145.65" text-anchor="middle" class="t18">480</text>
<text x="329.55" y="1167.05" text-anchor="middle" class="t18">seconds</text>
<line x1="65.5" y1="1101.5" x2="65.5" y2="637.5" stroke="#000" stroke-width="0.8"/>
<line x1="58.5" y1="1101.5" x2="65.5" y2="1101.5" stroke="#000" stroke-width="0.8"/>
<text transform="translate(48.8,1101.5) rotate(-90)" text-anchor="middle" class="t18">-1.5</text>
<line x1="58.5" y1="985.5" x2="65.5" y2="985.5" stroke="#000" stroke-width="0.8"/>
<text transform="translate(48.8,985.5) rotate(-90)" text-anchor="middle" class="t18">-1.0</text>
<line x1="58.5" y1="869.5" x2="65.5" y2="869.5" stroke="#000" stroke-width="0.8"/>
<text transform="translate(48.8,869.5) rotate(-90)" text-anchor="middle" class="t18">-0.5</text>
<line x1="58.5" y1="753.5" x2="65.5" y2="753.5" stroke="#000" stroke-width="0.8"/>
<text transform="translate(48.8,753.5) rotate(-90)" text-anchor="middle" class="t18">0.0</text>
<line x1="58.5" y1="637.5" x2="65.5" y2="637.5" stroke="#000" stroke-width="0.8"/>
<text transform="translate(48.8,637.5) rotate(-90)" text-anchor="middle" class="t18">0.5</text>
<text transform="translate(27.1,869.75) rotate(-90)" text-anchor="middle" class="t18">approx. ppm</text>
<text x="329.55" y="616.55" text-anchor="middle" class="tb">LS Intervals</text>
<text x="329.55" y="645.15" text-anchor="middle" class="t18">posneg effect = -0.003</text>
<rect x="449.6" y="1077.6" width="144" height="42.65" fill="#fff" stroke="#000" stroke-width="0.8"/>
<text x="521.6" y="1092" text-anchor="middle" class="tl">Preceding Gas</text>
<line x1="453.2" y1="1105.7" x2="474.9" y2="1105.7" stroke="#FF0000" stroke-width="0.8"/>
<rect x="461.45" y="1103.1" width="5.2" height="5.2" fill="none" stroke="#FF0000" stroke-width="0.8"/>
<text x="485.5" y="1110.7" class="tl">Line 1</text>
<line x1="522.2" y1="1105.7" x2="543.9" y2="1105.7" stroke="#00FF00" stroke-width="0.8"/>
<rect x="530.45" y="1103.1" width="5.2" height="5.2" fill="none" stroke="#00FF00" stroke-width="0.8"/>
<text x="554.5" y="1110.7" class="tl">HS</text>
<clipPath id="c5"><rect x="660.6" y="619.25" width="528.4" height="501"/></clipPath>
<path clip-path="url(#c5)" d="M713.31 896.59L762.19 839.01M773.15 834.9L817.46 841.6M830.76 843.05L874.95 846.05M888.32 846.83L932.49 848.97M945.88 849.64L990.04 851.86M1003.41 852.79L1047.61 856.71M1060.98 857.64L1105.15 859.86M1118.45 861.3L1162.78 868.7" fill="none" stroke="#00FF00" stroke-width="0.8"/>
<circle clip-path="url(#c5)" cx="708.98" cy="901.7" r="2.7" fill="none" stroke="#00FF00" stroke-width="0.8"/>
<circle clip-path="url(#c5)" cx="766.53" cy="833.9" r="2.7" fill="none" stroke="#00FF00" stroke-width="0.8"/>
<circle clip-path="url(#c5)" cx="824.08" cy="842.6" r="2.7" fill="none" stroke="#00FF00" stroke-width="0.8"/>
<circle clip-path="url(#c5)" cx="881.63" cy="846.5" r="2.7" fill="none" stroke="#00FF00" stroke-width="0.8"/>
<circle clip-path="url(#c5)" cx="939.18" cy="849.3" r="2.7" fill="none" stroke="#00FF00" stroke-width="0.8"/>
<circle clip-path="url(#c5)" cx="996.74" cy="852.2" r="2.7" fill="none" stroke="#00FF00" stroke-width="0.8"/>
<circle clip-path="url(#c5)" cx="1054.29" cy="857.3" r="2.7" fill="none" stroke="#00FF00" stroke-width="0.8"/>
<circle clip-path="url(#c5)" cx="1111.84" cy="860.2" r="2.7" fill="none" stroke="#00FF00" stroke-width="0.8"/>
<circle clip-path="url(#c5)" cx="1169.39" cy="869.8" r="2.7" fill="none" stroke="#00FF00" stroke-width="0.8"/>
<path clip-path="url(#c5)" d="M715.66 862.8L759.84 865.4M773.23 865.71L817.38 865.09M830.78 865.26L874.94 866.94M888.33 867.26L932.48 867.64M945.88 867.78L990.04 868.32M1003.43 868.56L1047.59 869.64" fill="none" stroke="#FFA500" stroke-width="0.8"/>
<circle clip-path="url(#c5)" cx="708.98" cy="862.4" r="2.7" fill="none" stroke="#FFA500" stroke-width="0.8"/>
<circle clip-path="url(#c5)" cx="766.53" cy="865.8" r="2.7" fill="none" stroke="#FFA500" stroke-width="0.8"/>
<circle clip-path="url(#c5)" cx="824.08" cy="865" r="2.7" fill="none" stroke="#FFA500" stroke-width="0.8"/>
<circle clip-path="url(#c5)" cx="881.63" cy="867.2" r="2.7" fill="none" stroke="#FFA500" stroke-width="0.8"/>
<circle clip-path="url(#c5)" cx="939.18" cy="867.7" r="2.7" fill="none" stroke="#FFA500" stroke-width="0.8"/>
<circle clip-path="url(#c5)" cx="996.74" cy="868.4" r="2.7" fill="none" stroke="#FFA500" stroke-width="0.8"/>
<circle clip-path="url(#c5)" cx="1054.29" cy="869.8" r="2.7" fill="none" stroke="#FFA500" stroke-width="0.8"/>
<line x1="660.6" y1="869.5" x2="1189" y2="869.5" stroke="#000" stroke-width="0.8"/>
<line x1="1140.6" y1="619.25" x2="1140.6" y2="1120.25" stroke="#A52A2A" stroke-width="0.9"/>
<rect x="660.6" y="619.25" width="528.4" height="501" fill="none" stroke="#000" stroke-width="0.8"/>
<line x1="680.2" y1="1120.25" x2="1140.62" y2="1120.25" stroke="#000" stroke-width="0.8"/>
<line x1="680.2" y1="1120.25" x2="680.2" y2="1127.25" stroke="#000" stroke-width="0.8"/>
<text x="680.2" y="1145.65" text-anchor="middle" class="t18">0</text>
<line x1="795.3" y1="1120.25" x2="795.3" y2="1127.25" stroke="#000" stroke-width="0.8"/>
<text x="795.3" y="1145.65" text-anchor="middle" class="t18">120</text>
<line x1="910.41" y1="1120.25" x2="910.41" y2="1127.25" stroke="#000" stroke-width="0.8"/>
<text x="910.41" y="1145.65" text-anchor="middle" class="t18">240</text>
<line x1="1025.51" y1="1120.25" x2="1025.51" y2="1127.25" stroke="#000" stroke-width="0.8"/>
<text x="1025.51" y="1145.65" text-anchor="middle" class="t18">360</text>
<line x1="1140.62" y1="1120.25" x2="1140.62" y2="1127.25" stroke="#000" stroke-width="0.8"/>
<text x="1140.62" y="1145.65" text-anchor="middle" class="t18">480</text>
<text x="924.8" y="1167.05" text-anchor="middle" class="t18">seconds</text>
<line x1="660.6" y1="1101.5" x2="660.6" y2="637.5" stroke="#000" stroke-width="0.8"/>
<line x1="653.6" y1="1101.5" x2="660.6" y2="1101.5" stroke="#000" stroke-width="0.8"/>
<text transform="translate(643.9,1101.5) rotate(-90)" text-anchor="middle" class="t18">-1.0</text>
<line x1="653.6" y1="985.5" x2="660.6" y2="985.5" stroke="#000" stroke-width="0.8"/>
<text transform="translate(643.9,985.5) rotate(-90)" text-anchor="middle" class="t18">-0.5</text>
<line x1="653.6" y1="869.5" x2="660.6" y2="869.5" stroke="#000" stroke-width="0.8"/>
<text transform="translate(643.9,869.5) rotate(-90)" text-anchor="middle" class="t18">0.0</text>
<line x1="653.6" y1="753.5" x2="660.6" y2="753.5" stroke="#000" stroke-width="0.8"/>
<text transform="translate(643.9,753.5) rotate(-90)" text-anchor="middle" class="t18">0.5</text>
<line x1="653.6" y1="637.5" x2="660.6" y2="637.5" stroke="#000" stroke-width="0.8"/>
<text transform="translate(643.9,637.5) rotate(-90)" text-anchor="middle" class="t18">1.0</text>
<text transform="translate(622.2,869.75) rotate(-90)" text-anchor="middle" class="t18">approx. ppm</text>
<text x="924.8" y="616.55" text-anchor="middle" class="tb">LT Intervals</text>
<text x="924.8" y="645.15" text-anchor="middle" class="t18">posneg effect = NaN</text>
<rect x="1079.4" y="1077.6" width="109.6" height="42.65" fill="#fff" stroke="#000" stroke-width="0.8"/>
<text x="1134.2" y="1092" text-anchor="middle" class="tl">Preceding Gas</text>
<line x1="1082.3" y1="1105.7" x2="1104" y2="1105.7" stroke="#00FF00" stroke-width="0.8"/>
<rect x="1090.55" y="1103.1" width="5.2" height="5.2" fill="none" stroke="#00FF00" stroke-width="0.8"/>
<text x="1114.6" y="1110.7" class="tl">HS</text>
<line x1="1134.3" y1="1105.7" x2="1156" y2="1105.7" stroke="#FFA500" stroke-width="0.8"/>
<rect x="1142.55" y="1103.1" width="5.2" height="5.2" fill="none" stroke="#FFA500" stroke-width="0.8"/>
<text x="1166.6" y="1110.7" class="tl">LS</text>
</g>
</svg>
</body></html>
